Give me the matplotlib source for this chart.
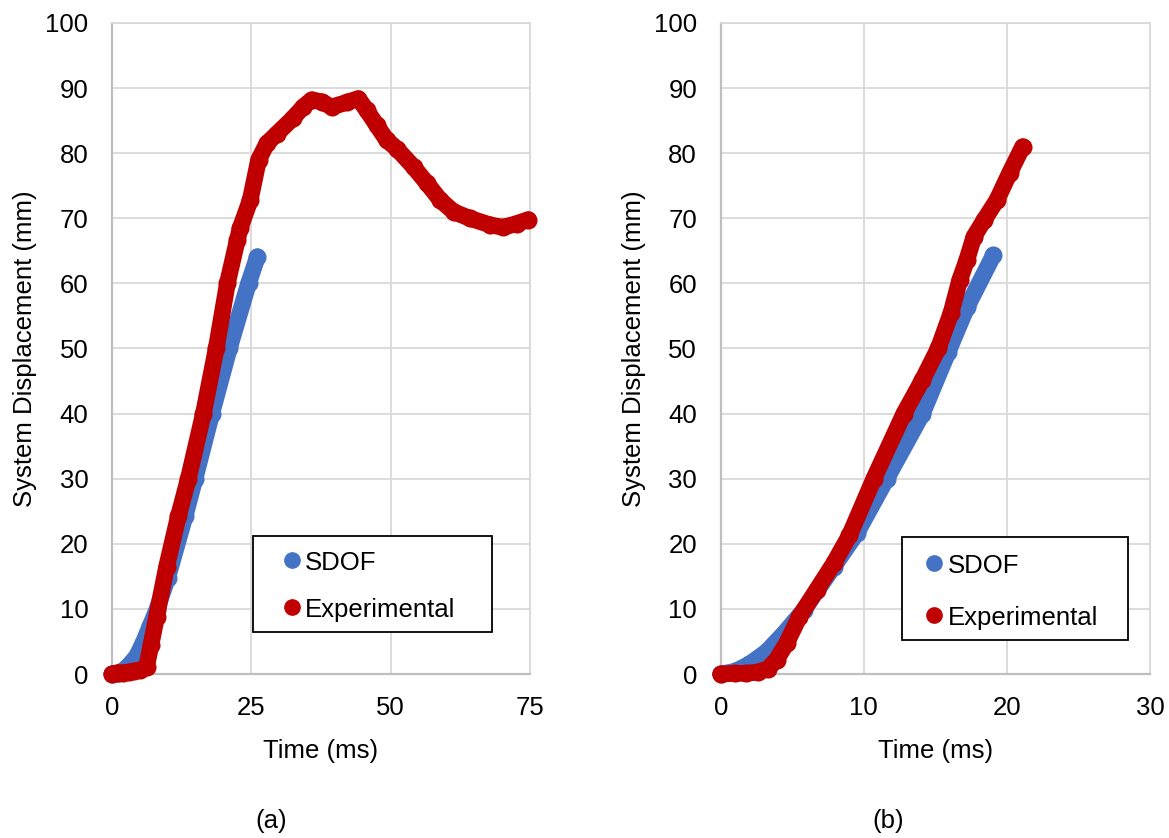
import matplotlib
matplotlib.use("Agg")
import matplotlib.pyplot as plt
from matplotlib.patches import Rectangle
from matplotlib.lines import Line2D

plt.rcParams['font.family'] = ['Liberation Sans', 'DejaVu Sans']

# ---------------- data ----------------
# Panel (a)
sdof_a_t = [0, 1, 2, 3, 4.4, 5.6, 6.8, 8, 10, 13.1, 14.9, 17.9, 21.05, 24.5, 26.1]
sdof_a_d = [0, 0.1, 0.5, 1.3, 2.7, 4.8, 7.3, 9.8, 14.8, 24.2, 30, 40, 50, 60, 64.1]

exp_a_t = [0, 1, 2, 3, 4, 5, 6.2, 7.0, 8.0, 9.8, 11.9, 13.7, 16.4, 18.7, 20.7, 22.5,
           23.0, 24.8, 26.3, 27.8, 29.6, 32.5, 34.3, 35.8, 37.6, 39.4, 42.1, 44.2,
           45.7, 47.5, 49.3, 51.1, 54.1, 56.5, 58.9, 61.3, 64.2, 67.8, 70.2, 72.6, 74.7]
exp_a_d = [0, 0.2, 0.2, 0.3, 0.4, 0.6, 1.1, 4.5, 8.8, 16.5, 24.2, 30, 40, 50, 60, 66.7,
           68.5, 72.8, 79.0, 81.5, 83.0, 85.4, 87.1, 88.2, 87.9, 87.1, 87.8, 88.4,
           86.6, 84.3, 82.0, 80.7, 77.9, 75.4, 72.8, 71.0, 70.0, 69.0, 68.6, 69.2, 69.8]

# Panel (b)
sdof_b_t = [0, 1, 2, 3.2, 4.4, 5.8, 7.9, 9.5, 11.6, 14.1, 15.9, 17.2, 19.05]
sdof_b_d = [0, 0.4, 1.5, 3.4, 6.2, 9.8, 16.5, 21.6, 30, 40, 49.5, 56.3, 64.3]

exp_b_t = [0, 1.0, 1.8, 2.6, 3.3, 3.9, 4.6, 5.5, 6.7, 7.9, 9.0, 10.7, 12.8, 14.1,
           15.2, 16.1, 16.7, 17.2, 17.7, 18.4, 19.3, 20.2, 21.1]
exp_b_d = [0, 0.1, 0.1, 0.3, 0.8, 2.2, 4.7, 8.8, 12.9, 17, 21.3, 30, 40, 45.2,
           50, 55.5, 60.5, 63.6, 67.2, 69.7, 72.8, 77, 81]

series_names = ["SDOF", "Experimental"]
series_colors = ["#4472C4", "#C00000"]

xticks_a = [0, 25, 50, 75]
xticks_b = [0, 10, 20, 30]
yticks = [0, 10, 20, 30, 40, 50, 60, 70, 80, 90, 100]
xlabel = "Time (ms)"
ylabel = "System Displacement (mm)"
panel_labels = ["(a)", "(b)"]

# ---------------- layout ----------------
W, H = 1169, 838
fig = plt.figure(figsize=(W / 100, H / 100), dpi=100)


def fx(px):
    return px / W


def fy(py):
    return 1 - py / H


FS = 18.5
GRID = "#d9d9d9"
AXC = "#bfbfbf"
MS = 11.0
LW = 12.0


def setup(ax, xticks):
    ax.set_xlim(xticks[0], xticks[-1])
    ax.set_ylim(0, 100)
    ax.set_xticks(xticks)
    ax.set_yticks(yticks)
    ax.grid(True, color=GRID, linewidth=1.3)
    ax.set_axisbelow(True)
    for s in ["top", "right"]:
        ax.spines[s].set_color(GRID)
        ax.spines[s].set_linewidth(1.3)
    for s in ["left", "bottom"]:
        ax.spines[s].set_color(AXC)
        ax.spines[s].set_linewidth(1.6)
    ax.tick_params(axis="x", length=0, pad=15.5, labelsize=FS)
    ax.tick_params(axis="y", length=0, pad=17, labelsize=FS)
    ax.set_xlabel(xlabel, fontsize=FS, labelpad=14)
    ax.set_ylabel(ylabel, fontsize=FS, labelpad=6)


def draw(ax, t, d, color):
    ax.plot(t, d, '-', color=color, lw=LW, solid_capstyle='round',
            solid_joinstyle='round', marker='o', ms=LW, mec=color, mfc=color,
            clip_on=False, zorder=3)


def legend_box(x0, y0, x1, y1, mx, tx, rows):
    fig.add_artist(Rectangle((fx(x0), fy(y1)), fx(x1) - fx(x0), fy(y0) - fy(y1),
                             transform=fig.transFigure, facecolor="white",
                             edgecolor="black", linewidth=1.3, zorder=10))
    for name, col, ry in zip(series_names, series_colors, rows):
        fig.add_artist(Line2D([fx(mx)], [fy(ry)], marker='o', ms=MS, color=col,
                              linestyle='none', transform=fig.transFigure, zorder=11))
        fig.text(fx(tx), fy(ry), name, fontsize=FS, va='center_baseline', ha='left',
                 zorder=11)


ax1 = fig.add_axes([fx(112), fy(674), fx(530) - fx(112), fy(23) - fy(674)])
setup(ax1, xticks_a)
draw(ax1, sdof_a_t, sdof_a_d, series_colors[0])
draw(ax1, exp_a_t, exp_a_d, series_colors[1])

ax2 = fig.add_axes([fx(720.7), fy(674), fx(1150) - fx(720.7), fy(23) - fy(674)])
setup(ax2, xticks_b)
draw(ax2, sdof_b_t, sdof_b_d, series_colors[0])
draw(ax2, exp_b_t, exp_b_d, series_colors[1])

legend_box(253, 536, 492, 632, 292, 305, [560, 607])
legend_box(902, 537, 1128, 640, 934, 948, [563, 615])

fig.text(fx(271), fy(821), panel_labels[0], fontsize=FS, ha='center', va='center')
fig.text(fx(888), fy(821), panel_labels[1], fontsize=FS, ha='center', va='center')

fig.savefig("out.png", dpi=100)
